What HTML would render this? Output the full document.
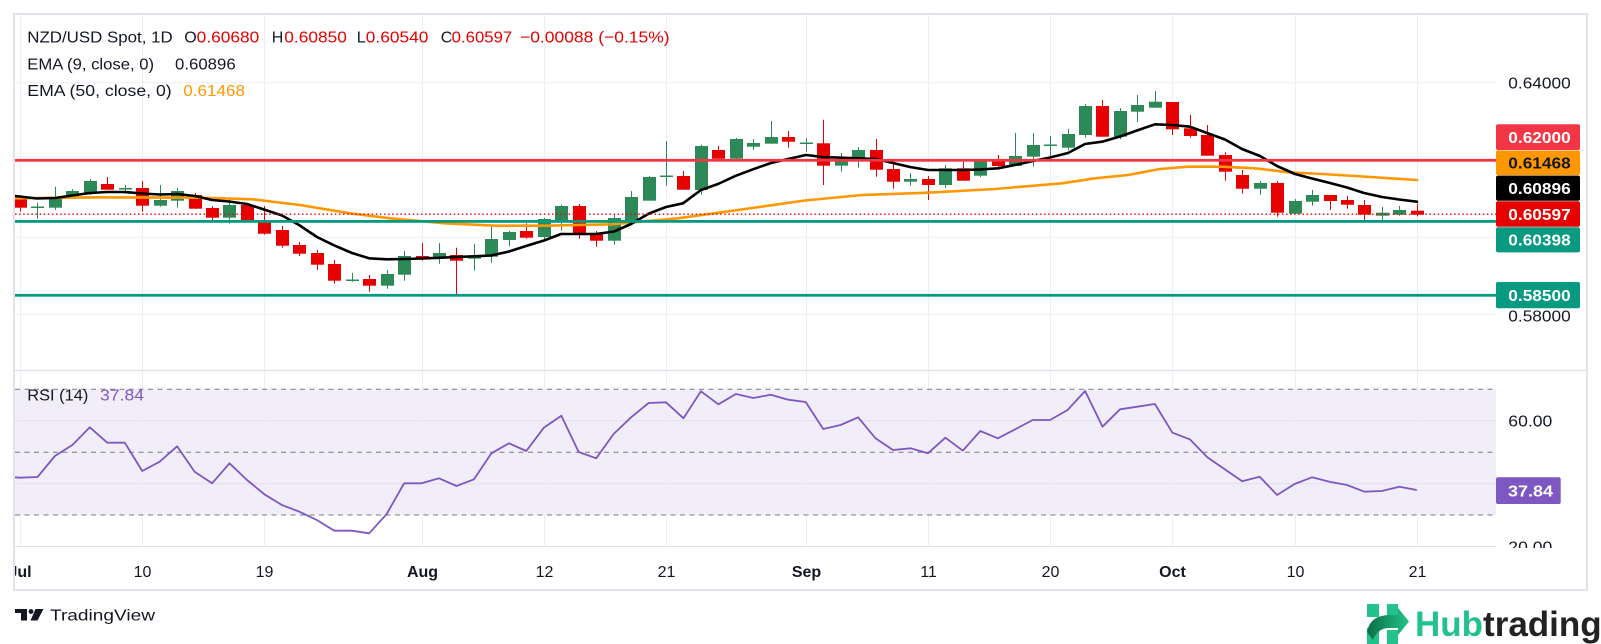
<!DOCTYPE html>
<html><head><meta charset="utf-8"><style>
html,body{margin:0;padding:0;background:#fff;}
svg{display:block;font-family:"Liberation Sans",sans-serif;}
</style></head><body>
<svg width="1601" height="644" viewBox="0 0 1601 644" xmlns="http://www.w3.org/2000/svg">
<defs>
<clipPath id="plot"><rect x="15" y="15" width="1481" height="355"/></clipPath>
<clipPath id="rsiclip"><rect x="15" y="371" width="1481" height="176"/></clipPath>
<clipPath id="axclip"><rect x="15" y="548" width="1571" height="41"/></clipPath>
<clipPath id="rscale"><rect x="1496" y="371" width="90" height="177"/></clipPath>
<linearGradient id="hg" x1="0" y1="0" x2="1" y2="0"><stop offset="0" stop-color="#0b6e45"/><stop offset="1" stop-color="#22c38a"/></linearGradient>
</defs>
<rect width="1601" height="644" fill="#fff"/>
<rect x="15" y="389.3" width="1481" height="125.7" fill="#f2eef9"/>
<g stroke="#eceef4" stroke-width="1">
<line x1="15" y1="82.7" x2="1496" y2="82.7"/>
<line x1="15" y1="237.3" x2="1496" y2="237.3"/>
<line x1="15" y1="314.6" x2="1496" y2="314.6"/>
</g>
<g stroke="#e2dfec" stroke-width="1">
<line x1="15" y1="420.7" x2="1496" y2="420.7"/>
<line x1="15" y1="483.8" x2="1496" y2="483.8"/>
<line x1="15" y1="546.5" x2="1496" y2="546.5"/>
</g>
<g stroke="#eceef4" stroke-width="1">
<line x1="20.5" y1="15" x2="20.5" y2="547"/>
<line x1="142.5" y1="15" x2="142.5" y2="547"/>
<line x1="264.5" y1="15" x2="264.5" y2="547"/>
<line x1="422.5" y1="15" x2="422.5" y2="547"/>
<line x1="544.5" y1="15" x2="544.5" y2="547"/>
<line x1="666.5" y1="15" x2="666.5" y2="547"/>
<line x1="806.5" y1="15" x2="806.5" y2="547"/>
<line x1="928.5" y1="15" x2="928.5" y2="547"/>
<line x1="1050.5" y1="15" x2="1050.5" y2="547"/>
<line x1="1172.5" y1="15" x2="1172.5" y2="547"/>
<line x1="1295.5" y1="15" x2="1295.5" y2="547"/>
<line x1="1417.5" y1="15" x2="1417.5" y2="547"/>
</g>
<g clip-path="url(#plot)">
<g fill="#2d8a58">
<rect x="37" y="202.7" width="1" height="16"/><rect x="31" y="206.5" width="13" height="1.5"/>
<rect x="55" y="186.7" width="1" height="23.3"/><rect x="49" y="197.3" width="13" height="10.4"/>
<rect x="72" y="189" width="1" height="8.7"/><rect x="66" y="191" width="13" height="6.7"/>
<rect x="90" y="179" width="1" height="16"/><rect x="84" y="181" width="13" height="12"/>
<rect x="125" y="185" width="1" height="8.7"/><rect x="119" y="188" width="13" height="1.5"/>
<rect x="160" y="185" width="1" height="21.7"/><rect x="154" y="200" width="13" height="5.7"/>
<rect x="177" y="188" width="1" height="19.7"/><rect x="171" y="191" width="13" height="9.7"/>
<rect x="229" y="199" width="1" height="24.7"/><rect x="223" y="205" width="13" height="12.7"/>
<rect x="352" y="273" width="1" height="8.7"/><rect x="346" y="279.5" width="13" height="1.5"/>
<rect x="387" y="270" width="1" height="18.7"/><rect x="381" y="274" width="13" height="11.7"/>
<rect x="404" y="251" width="1" height="29.7"/><rect x="398" y="256" width="13" height="18.7"/>
<rect x="439" y="243" width="1" height="20.7"/><rect x="433" y="253" width="13" height="4.7"/>
<rect x="474" y="244" width="1" height="26.7"/><rect x="468" y="256" width="13" height="2.7"/>
<rect x="491" y="226.7" width="1" height="36"/><rect x="485" y="239" width="13" height="17.7"/>
<rect x="509" y="231" width="1" height="15"/><rect x="503" y="232" width="13" height="8"/>
<rect x="544" y="218" width="1" height="22.7"/><rect x="538" y="219" width="13" height="18"/>
<rect x="561" y="204.7" width="1" height="26"/><rect x="555" y="206" width="13" height="14"/>
<rect x="614" y="215" width="1" height="29.7"/><rect x="608" y="218" width="13" height="22.7"/>
<rect x="631" y="191" width="1" height="29"/><rect x="625" y="197" width="13" height="23"/>
<rect x="649" y="176" width="1" height="24.7"/><rect x="643" y="177" width="13" height="23.7"/>
<rect x="666" y="141" width="1" height="44.7"/><rect x="660" y="175.5" width="13" height="1.5"/>
<rect x="701" y="144.7" width="1" height="50"/><rect x="695" y="146" width="13" height="44"/>
<rect x="736" y="138" width="1" height="23.7"/><rect x="730" y="139" width="13" height="19.7"/>
<rect x="753" y="139" width="1" height="11"/><rect x="747" y="143" width="13" height="3.7"/>
<rect x="771" y="121" width="1" height="22.7"/><rect x="765" y="137" width="13" height="6.7"/>
<rect x="806" y="138.3" width="1" height="13.4"/><rect x="800" y="142.5" width="13" height="1.5"/>
<rect x="841" y="153" width="1" height="18.7"/><rect x="835" y="160.3" width="13" height="5.4"/>
<rect x="858" y="147" width="1" height="20.7"/><rect x="852" y="150" width="13" height="10.3"/>
<rect x="910" y="173.3" width="1" height="12.4"/><rect x="904" y="179" width="13" height="2.7"/>
<rect x="945" y="165" width="1" height="22.7"/><rect x="939" y="168.3" width="13" height="16.7"/>
<rect x="980" y="159" width="1" height="18"/><rect x="974" y="159" width="13" height="16.7"/>
<rect x="1015" y="133" width="1" height="33"/><rect x="1009" y="156" width="13" height="10"/>
<rect x="1033" y="133" width="1" height="33.7"/><rect x="1027" y="145" width="13" height="11.7"/>
<rect x="1050" y="136" width="1" height="21.7"/><rect x="1044" y="144.5" width="13" height="1.5"/>
<rect x="1068" y="129" width="1" height="21"/><rect x="1062" y="134" width="13" height="13.7"/>
<rect x="1085" y="104" width="1" height="33.7"/><rect x="1079" y="106" width="13" height="29"/>
<rect x="1120" y="108" width="1" height="31.3"/><rect x="1114" y="111" width="13" height="25.7"/>
<rect x="1137" y="95" width="1" height="27"/><rect x="1131" y="105" width="13" height="6.7"/>
<rect x="1155" y="91" width="1" height="16.7"/><rect x="1149" y="101.7" width="13" height="6"/>
<rect x="1260" y="181" width="1" height="13.7"/><rect x="1254" y="183" width="13" height="5.7"/>
<rect x="1295" y="199" width="1" height="14.7"/><rect x="1289" y="201" width="13" height="12.7"/>
<rect x="1312" y="190" width="1" height="15.7"/><rect x="1306" y="195" width="13" height="6.7"/>
<rect x="1382" y="207" width="1" height="13"/><rect x="1376" y="212.7" width="13" height="3"/>
<rect x="1399" y="206" width="1" height="9.7"/><rect x="1393" y="210" width="13" height="4.7"/>
</g>
<g fill="#e60000">
<rect x="20" y="195" width="1" height="16.7"/><rect x="14" y="199.3" width="13" height="8.4"/>
<rect x="107" y="177" width="1" height="12.7"/><rect x="101" y="184" width="13" height="5.7"/>
<rect x="142" y="181" width="1" height="30.7"/><rect x="136" y="188" width="13" height="17.7"/>
<rect x="195" y="193" width="1" height="15.7"/><rect x="189" y="195" width="13" height="13.7"/>
<rect x="212" y="206" width="1" height="16.7"/><rect x="206" y="208" width="13" height="9.7"/>
<rect x="247" y="203" width="1" height="17.7"/><rect x="241" y="205" width="13" height="15.7"/>
<rect x="264" y="206" width="1" height="28.7"/><rect x="258" y="220" width="13" height="13.7"/>
<rect x="282" y="226" width="1" height="21.7"/><rect x="276" y="230" width="13" height="15.7"/>
<rect x="299" y="242" width="1" height="14"/><rect x="293" y="245" width="13" height="8.7"/>
<rect x="317" y="250" width="1" height="20"/><rect x="311" y="253" width="13" height="11.7"/>
<rect x="334" y="260" width="1" height="23.7"/><rect x="328" y="264" width="13" height="16.7"/>
<rect x="369" y="275" width="1" height="16.7"/><rect x="363" y="279" width="13" height="6.7"/>
<rect x="422" y="243" width="1" height="17.7"/><rect x="416" y="256" width="13" height="1.5"/>
<rect x="456" y="247.7" width="1" height="46.3"/><rect x="450" y="255" width="13" height="5.7"/>
<rect x="526" y="223.3" width="1" height="15.4"/><rect x="520" y="231" width="13" height="6.7"/>
<rect x="579" y="204" width="1" height="34.7"/><rect x="573" y="206" width="13" height="29"/>
<rect x="596" y="231" width="1" height="15.7"/><rect x="590" y="234" width="13" height="6.7"/>
<rect x="683" y="171" width="1" height="18.7"/><rect x="677" y="176" width="13" height="13.7"/>
<rect x="718" y="146" width="1" height="15"/><rect x="712" y="150" width="13" height="8.7"/>
<rect x="788" y="131" width="1" height="16.7"/><rect x="782" y="137" width="13" height="4.7"/>
<rect x="823" y="119.7" width="1" height="65.3"/><rect x="817" y="143.3" width="13" height="22.4"/>
<rect x="876" y="139" width="1" height="37.7"/><rect x="870" y="150" width="13" height="19.7"/>
<rect x="893" y="163.7" width="1" height="25"/><rect x="887" y="169" width="13" height="12.7"/>
<rect x="928" y="176" width="1" height="24"/><rect x="922" y="179" width="13" height="6"/>
<rect x="963" y="162" width="1" height="18.7"/><rect x="957" y="168.3" width="13" height="12.4"/>
<rect x="998" y="155" width="1" height="13.3"/><rect x="992" y="159" width="13" height="7"/>
<rect x="1102" y="100" width="1" height="36.7"/><rect x="1096" y="106" width="13" height="30.7"/>
<rect x="1172" y="102" width="1" height="33"/><rect x="1166" y="102" width="13" height="27.3"/>
<rect x="1190" y="115" width="1" height="22.7"/><rect x="1184" y="128.3" width="13" height="7.7"/>
<rect x="1207" y="125" width="1" height="30.7"/><rect x="1201" y="135" width="13" height="20.7"/>
<rect x="1225" y="152.3" width="1" height="28.4"/><rect x="1219" y="155" width="13" height="16.7"/>
<rect x="1242" y="170" width="1" height="23.7"/><rect x="1236" y="175" width="13" height="13.7"/>
<rect x="1277" y="181" width="1" height="35.7"/><rect x="1271" y="183" width="13" height="29.7"/>
<rect x="1330" y="195" width="1" height="15"/><rect x="1324" y="195" width="13" height="6"/>
<rect x="1347" y="196" width="1" height="12.7"/><rect x="1341" y="200" width="13" height="4.7"/>
<rect x="1364" y="200" width="1" height="20.7"/><rect x="1358" y="205" width="13" height="9.7"/>
<rect x="1417" y="203.7" width="1" height="12.7"/><rect x="1411" y="210.7" width="13" height="4"/>
</g>
<polyline fill="none" stroke="#ff9800" stroke-width="2.6" stroke-linejoin="round" stroke-linecap="round" points="15,198.3 100,197.3 200,197.7 253,199.3 300,205 350,213.3 390,218.3 445,223.3 495,225.7 545,225.7 612,224.3 678,218.3 745,209 805,200.5 862,195 928,192.7 995,189 1062,183.3 1095,178.3 1128,175 1160,169 1188,166.7 1222,166.7 1255,168.3 1288,172.3 1322,174 1355,176 1417,180"/>
<polyline fill="none" stroke="#000" stroke-width="2.6" stroke-linejoin="round" stroke-linecap="round" points="15,196 37,198.5 55,198 72,195.5 90,193 107,192 125,192 142,193.5 160,194.5 177,194 195,196 212,200 229,201.5 247,204 264,209.5 282,215.5 299,225 317,237 334,245.3 352,253 369,258.3 387,259.3 404,259 422,258.5 439,257.8 456,257 474,256.3 491,255.5 509,251.5 526,246 544,240.5 561,234 579,234 596,234 614,231.5 631,224 649,213.5 666,207 683,203.3 701,190 718,184 736,175.7 753,169.3 771,163 788,159 806,155 823,157 841,157.7 858,158.3 876,159 893,163 910,167 928,170 945,170 963,170 980,169.5 998,168.3 1015,165 1033,161 1050,157.5 1068,153 1085,144 1102,141.7 1120,136.5 1137,130.5 1155,124.3 1172,125 1190,126.7 1207,133 1225,139.5 1242,149 1260,156 1277,166 1295,174 1312,178.5 1330,183 1347,187.5 1364,193 1382,197 1399,199.5 1417,201.7"/>
</g>
<line x1="15" y1="214.2" x2="1496" y2="214.2" stroke="#e60000" stroke-width="1.3" stroke-dasharray="1.5 2.6"/>
<rect x="15" y="158.9" width="1481" height="2.8" fill="#f23645"/>
<rect x="15" y="220" width="1481" height="2.8" fill="#089981"/>
<rect x="15" y="293.9" width="1481" height="2.8" fill="#089981"/>
<g stroke="#787b86" stroke-width="1" stroke-dasharray="5 4.5">
<line x1="15" y1="389.3" x2="1496" y2="389.3"/>
<line x1="15" y1="452.3" x2="1496" y2="452.3"/>
<line x1="15" y1="515" x2="1496" y2="515"/>
</g>
<g clip-path="url(#rsiclip)">
<polyline fill="none" stroke="#7e57c2" stroke-width="1.8" stroke-linejoin="round" points="15,477.3 20,477.7 37.5,477 54.9,456 72.4,445 89.8,427.3 107.3,442.7 124.8,442.7 142.2,471 159.7,461.7 177.1,446.3 194.6,471.7 212.1,483.3 229.5,463.3 247,480 264.4,494.3 281.9,505 299.4,511.7 316.8,520 334.3,530.7 351.7,530.7 369.2,533.3 386.7,514 404.1,483.3 421.6,483.3 439,478.3 456.5,486 474,479.3 491.4,453.3 508.9,443.3 526.3,451 543.8,427.7 561.3,415.7 578.7,452 596.2,458.3 613.6,434 631.1,417.3 648.6,403 666,402.3 683.5,418.3 700.9,391.3 718.4,404.3 735.9,394 753.3,398 770.8,394.7 788.2,399.7 805.7,402 823.2,429 840.6,425 858.1,417.3 875.5,438.3 893,450 910.5,448.3 927.9,453.3 945.4,437.7 962.8,450.7 980.3,431 997.8,438.3 1015.2,429.3 1032.7,420 1050.1,420 1067.6,410 1085.1,391 1102.5,426.7 1120,409.3 1137.4,406.7 1154.9,404 1172.4,432.7 1189.8,439.3 1207.3,457.3 1224.7,469.3 1242.2,481.3 1259.7,476.7 1277.1,495 1294.6,484 1312,477.3 1329.5,481.7 1347,485 1364.4,491.7 1381.9,491 1399.3,486.7 1416.8,490"/>
</g>
<rect x="14" y="14" width="1573" height="576" fill="none" stroke="#e0e3eb" stroke-width="2"/>
<line x1="14" y1="370.5" x2="1587" y2="370.5" stroke="#e0e3eb" stroke-width="1.5"/>
<g font-size="16" fill="#131722">
<text x="27.3" y="42.7" textLength="145.4" lengthAdjust="spacingAndGlyphs">NZD/USD Spot, 1D</text>
<text x="184.3" y="42.7">O</text>
<text x="196.7" y="42.7" fill="#e60000" textLength="62.6" lengthAdjust="spacingAndGlyphs">0.60680</text>
<text x="271.7" y="42.7">H</text>
<text x="284.3" y="42.7" fill="#e60000" textLength="62.6" lengthAdjust="spacingAndGlyphs">0.60850</text>
<text x="356.7" y="42.7">L</text>
<text x="365.8" y="42.7" fill="#e60000" textLength="62.6" lengthAdjust="spacingAndGlyphs">0.60540</text>
<text x="440.7" y="42.7">C</text>
<text x="451.7" y="42.7" fill="#e60000" textLength="60.5" lengthAdjust="spacingAndGlyphs">0.60597</text>
<text x="520" y="42.7" fill="#e60000" textLength="149.6" lengthAdjust="spacingAndGlyphs">−0.00088 (−0.15%)</text>
<text x="27.3" y="69.7" textLength="126.7" lengthAdjust="spacingAndGlyphs">EMA (9, close, 0)</text>
<text x="175" y="69.7" textLength="60.7" lengthAdjust="spacingAndGlyphs">0.60896</text>
<text x="27.3" y="96" textLength="144.4" lengthAdjust="spacingAndGlyphs">EMA (50, close, 0)</text>
<text x="183.3" y="96" fill="#ff9800" textLength="61.7" lengthAdjust="spacingAndGlyphs">0.61468</text>
<text x="27.3" y="400.6" textLength="61" lengthAdjust="spacingAndGlyphs">RSI (14)</text>
<text x="100" y="400.6" fill="#7e57c2" textLength="44" lengthAdjust="spacingAndGlyphs">37.84</text>
</g>
<g font-size="16" fill="#131722">
<text x="1508.3" y="88.5" textLength="62.4" lengthAdjust="spacingAndGlyphs">0.64000</text>
<text x="1508.3" y="321.3" textLength="62.4" lengthAdjust="spacingAndGlyphs">0.58000</text>
</g>
<rect x="1496" y="124.3" width="84" height="25.7" rx="2" fill="#f23645"/>
<rect x="1496" y="150.5" width="84" height="24.7" rx="2" fill="#ff9800"/>
<rect x="1496" y="175.6" width="84" height="25.2" rx="2" fill="#000"/>
<rect x="1496" y="201.2" width="84" height="25.5" rx="2" fill="#e60000"/>
<rect x="1496" y="227.2" width="84" height="25.2" rx="2" fill="#089981"/>
<rect x="1496" y="282" width="84" height="26.3" rx="2" fill="#089981"/>
<g font-size="16" fill="#fff" font-weight="bold">
<text x="1508.3" y="143" textLength="62.4" lengthAdjust="spacingAndGlyphs">0.62000</text>
<text x="1508.3" y="168.7" fill="#131722" textLength="62.4" lengthAdjust="spacingAndGlyphs">0.61468</text>
<text x="1508.3" y="194" textLength="62.4" lengthAdjust="spacingAndGlyphs">0.60896</text>
<text x="1508.3" y="219.8" textLength="62.4" lengthAdjust="spacingAndGlyphs">0.60597</text>
<text x="1508.3" y="245.6" textLength="62.4" lengthAdjust="spacingAndGlyphs">0.60398</text>
<text x="1508.3" y="301" textLength="62.4" lengthAdjust="spacingAndGlyphs">0.58500</text>
</g>
<g clip-path="url(#rscale)" font-size="16" fill="#131722">
<text x="1508.3" y="426.5" textLength="44" lengthAdjust="spacingAndGlyphs">60.00</text>
<text x="1508.3" y="552.3" textLength="44" lengthAdjust="spacingAndGlyphs">20.00</text>
</g>
<rect x="1496" y="477.3" width="64.7" height="26.7" rx="2" fill="#7e57c2"/>
<text x="1508" y="496.5" font-size="16" font-weight="bold" fill="#fff" textLength="45" lengthAdjust="spacingAndGlyphs">37.84</text>
<g font-size="16" fill="#131722" text-anchor="middle" clip-path="url(#axclip)">
<text x="20" y="577" font-weight="bold">Jul</text>
<text x="142.5" y="577">10</text>
<text x="264.5" y="577">19</text>
<text x="422.5" y="577" font-weight="bold">Aug</text>
<text x="544.5" y="577">12</text>
<text x="666.5" y="577">21</text>
<text x="806.5" y="577" font-weight="bold">Sep</text>
<text x="928.5" y="577">11</text>
<text x="1050.5" y="577">20</text>
<text x="1172.5" y="577" font-weight="bold">Oct</text>
<text x="1295.5" y="577">10</text>
<text x="1417.5" y="577">21</text>
</g>
<g fill="#131722">
<rect x="15" y="609" width="12" height="4"/>
<rect x="21" y="609" width="6" height="11.5"/>
<circle cx="31" cy="611.5" r="2.4"/>
<polygon points="35.5,609 43.5,609 37.5,620.5 30.5,620.5"/>
</g>
<text x="50" y="620.7" font-size="16" fill="#131722" textLength="105" lengthAdjust="spacingAndGlyphs">TradingView</text>
<g>
<rect x="1367" y="604" width="12" height="13" fill="#22c38a"/>
<rect x="1387" y="604" width="11" height="12" fill="#22c38a"/>
<rect x="1367" y="628" width="12" height="16" fill="#22c38a"/>
<rect x="1387" y="630" width="11" height="14" fill="#22c38a"/>
<path d="M1367,632 Q1370,615 1390,615 L1398,615 L1398,608 L1409,621.5 L1398,635 L1398,628 L1389,628 Q1378,628 1373,640 Z" fill="url(#hg)"/>
</g>
<text x="1415" y="636" font-size="35" font-weight="bold" fill="#22c38a">Hub<tspan fill="#222">trading</tspan></text>
</svg>
</body></html>
